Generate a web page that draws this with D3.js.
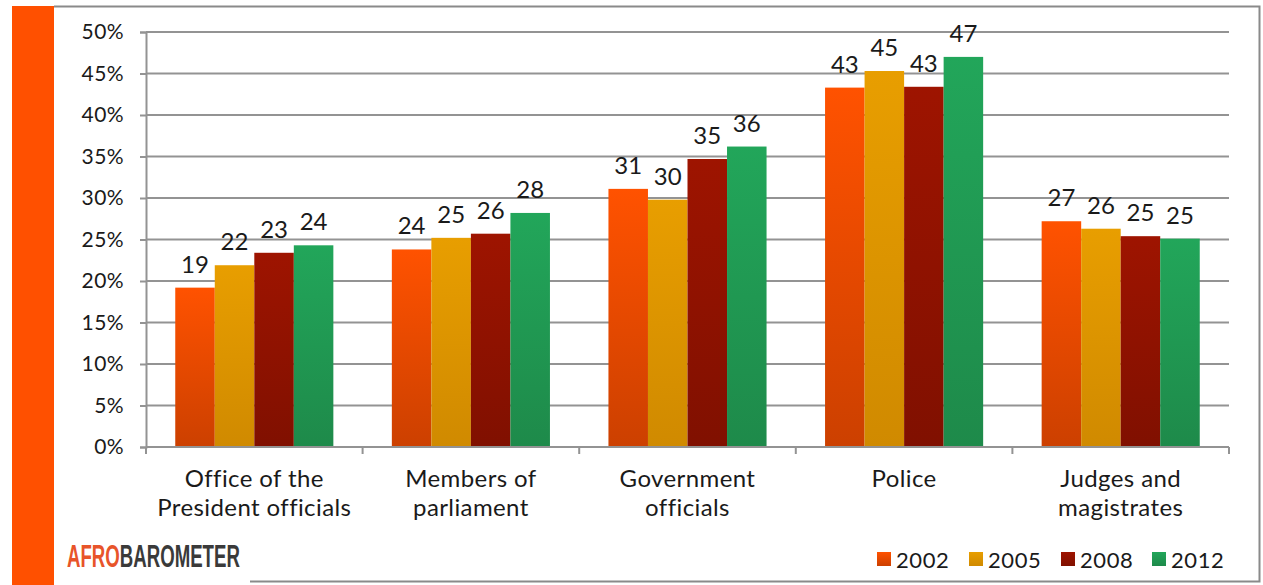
<!DOCTYPE html>
<html>
<head>
<meta charset="utf-8">
<script src="https://cdn.jsdelivr.net/npm/d3@7"></script>
<style>
  html, body { margin: 0; padding: 0; background: #ffffff; }
  svg { display: block; }
  text { font-family: "Lato", "Open Sans", sans-serif; fill: #1a1a1a; }
</style>
</head>
<body>
<svg id="chart" width="1263" height="585"></svg>
<script>
// Institutions and survey rounds
const categories = [
  ["Office of the", "President officials"],
  ["Members of", "parliament"],
  ["Government", "officials"],
  ["Police"],
  ["Judges and", "magistrates"]
];
const years = ["2002", "2005", "2008", "2012"];

// Percent per institution, one array per survey round
const values2002 = [19.2, 23.8, 31.1, 43.3, 27.2];
const values2005 = [21.9, 25.2, 29.8, 45.3, 26.3];
const values2008 = [23.4, 25.7, 34.7, 43.4, 25.4];
const values2012 = [24.3, 28.2, 36.2, 47.0, 25.1];
const series = [values2002, values2005, values2008, values2012];

const yTicks = [0, 5, 10, 15, 20, 25, 30, 35, 40, 45, 50];

const colorsTop = ["#ff5200", "#e89e00", "#9e1400", "#22a65a"];
const colorsBottom = ["#cc4000", "#d08a00", "#801000", "#1e8a4a"];

const svg = d3.select("#chart");
const defs = svg.append("defs");
years.forEach((yr, i) => {
  const g = defs.append("linearGradient")
    .attr("id", "grad" + yr).attr("x1", 0).attr("y1", 0).attr("x2", 0).attr("y2", 1);
  g.append("stop").attr("offset", "0%").attr("stop-color", colorsTop[i]);
  g.append("stop").attr("offset", "100%").attr("stop-color", colorsBottom[i]);
});

// Slide frame: orange side strip and grey border
svg.append("rect").attr("x", 12).attr("y", 6).attr("width", 42).attr("height", 579).attr("fill", "#ff5000");
svg.append("path")
  .attr("d", "M54,6.5 H1259.5 V581.5 H250")
  .attr("fill", "none").attr("stroke", "#8a8a8a").attr("stroke-width", 2);

const plotLeft = 146, plotRight = 1229, plotTop = 32, plotBottom = 447;

const x0 = d3.scaleBand().domain(d3.range(categories.length)).range([plotLeft, plotRight]).padding(0);
const x1 = d3.scaleBand().domain(years).range([0, x0.bandwidth()]).paddingInner(0).paddingOuter(0.74);
const y = d3.scaleLinear().domain([0, 50]).range([plotBottom, plotTop]);

// Horizontal gridlines
svg.append("g").selectAll("line").data(yTicks.filter(t => t > 0)).join("line")
  .attr("x1", plotLeft).attr("x2", plotRight)
  .attr("y1", d => y(d)).attr("y2", d => y(d))
  .attr("stroke", "#939393").attr("stroke-width", 2);

// Y axis
const yAxis = svg.append("g").attr("transform", `translate(${plotLeft},0)`)
  .call(d3.axisLeft(y).tickValues(yTicks).tickFormat(d => d + "%").tickSize(6).tickPadding(16));
yAxis.select(".domain").attr("stroke", "#939393").attr("stroke-width", 2);
yAxis.selectAll(".tick line").attr("stroke", "#939393").attr("stroke-width", 2);
yAxis.selectAll(".tick text").style("font-size", "21px").style("letter-spacing", "0.4px")
  .attr("fill", "#1a1a1a").style("font-family", "Lato, sans-serif");

// Bars
const groups = svg.append("g").selectAll("g").data(categories).join("g")
  .attr("transform", (d, i) => `translate(${x0(i)},0)`);

groups.selectAll("rect").data((d, i) => years.map((yr, k) => ({ yr, v: series[k][i] }))).join("rect")
  .attr("x", d => x1(d.yr))
  .attr("width", x1.bandwidth())
  .attr("y", d => y(d.v))
  .attr("height", d => y(0) - y(d.v))
  .attr("fill", d => `url(#grad${d.yr})`);

groups.selectAll("text.val").data((d, i) => years.map((yr, k) => ({ yr, v: series[k][i] }))).join("text")
  .attr("class", "val")
  .attr("x", d => x1(d.yr) + x1.bandwidth() / 2)
  .attr("y", d => y(d.v) - 15)
  .attr("text-anchor", "middle")
  .style("font-size", "24px")
  .text(d => d3.format(".0f")(d.v));

// X axis with boundary ticks
svg.append("line").attr("x1", plotLeft).attr("x2", plotRight).attr("y1", plotBottom).attr("y2", plotBottom)
  .attr("stroke", "#939393").attr("stroke-width", 2);
const bounds = d3.range(categories.length + 1).map(i => plotLeft + i * x0.step());
svg.append("g").selectAll("line").data(bounds).join("line")
  .attr("x1", d => d).attr("x2", d => d)
  .attr("y1", plotBottom).attr("y2", plotBottom + 7)
  .attr("stroke", "#939393").attr("stroke-width", 2);

// Category labels
groups.append("text")
  .attr("x", x0.bandwidth() / 2)
  .attr("text-anchor", "middle")
  .style("font-size", "24px")
  .style("letter-spacing", "0.4px")
  .selectAll("tspan").data(d => d).join("tspan")
  .attr("x", x0.bandwidth() / 2)
  .attr("y", (d, i) => 487 + i * 29)
  .text(d => d);

// Legend
const legendX = [877, 969, 1061, 1152];
const legend = svg.append("g").selectAll("g").data(years).join("g")
  .attr("transform", (d, i) => `translate(${legendX[i]},552)`);
legend.append("rect").attr("width", 14).attr("height", 14)
  .attr("fill", d => `url(#grad${d})`);
legend.append("text").attr("x", 19).attr("y", 16)
  .style("font-size", "22px").style("letter-spacing", "0.6px").text(d => d);

// Afrobarometer logo: one word, two colours, squeezed to the logo width
const logo = svg.append("g");
logo.append("rect").attr("x", 54).attr("y", 527).attr("width", 196).attr("height", 58).attr("fill", "#ffffff");
const logoWord = logo.append("text")
  .style("font-family", "'Liberation Sans Narrow', 'Liberation Sans', sans-serif")
  .style("font-weight", "bold").style("font-size", "32px");
logoWord.append("tspan").style("fill", "#e8542a").text("AFRO");
logoWord.append("tspan").style("fill", "#3a3a3a").text("BAROMETER");
const naturalWidth = logoWord.node().getComputedTextLength();
logoWord.attr("transform", `translate(67,567) scale(${173 / naturalWidth},1)`);
</script>
</body>
</html>
